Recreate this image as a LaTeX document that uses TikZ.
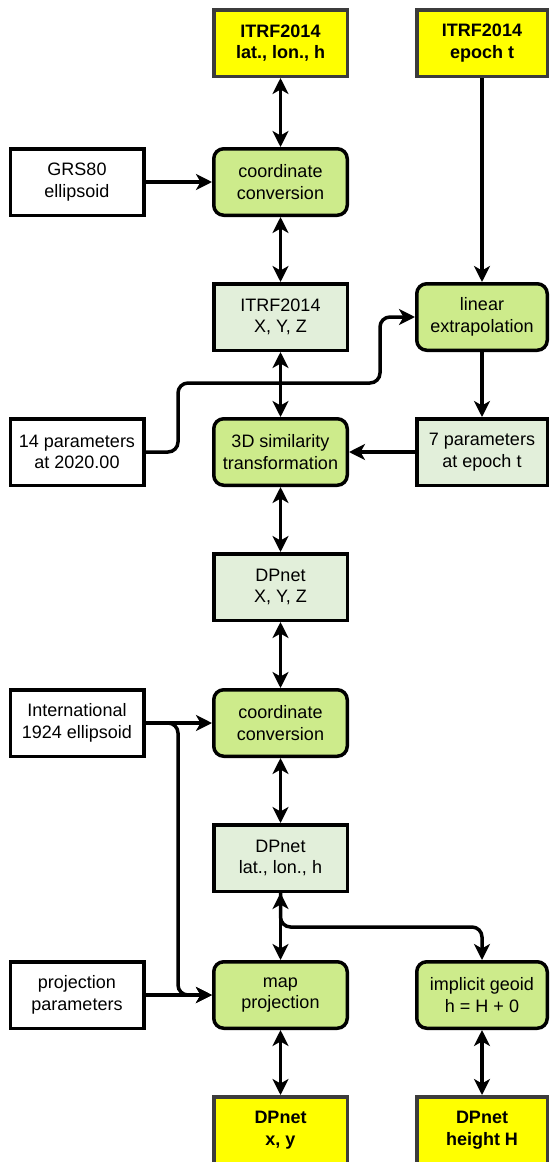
\documentclass[tikz,border=0pt]{standalone}
\usepackage{fontspec}
\setmainfont{Liberation Sans}
\usetikzlibrary{arrows.meta}
\definecolor{yellowc}{HTML}{FFFF00}
\definecolor{bordergrey}{HTML}{3C3C3C}
\definecolor{procgreen}{HTML}{CDEB8B}
\definecolor{datagreen}{HTML}{E2EFDA}
\begin{document}
\begin{tikzpicture}[x=1pt,y=-1pt,
  box/.style={draw, line width=3.5pt, minimum width=133.5pt, minimum height=66.5pt, align=center, inner sep=0pt, font=\fontsize{18}{21.5}\selectfont},
  rbox/.style={minimum width=130.5pt},
  inp/.style={box, fill=white},
  term/.style={box, fill=yellowc, draw=bordergrey, font=\fontsize{18}{21.5}\selectfont\bfseries},
  proc/.style={box, fill=procgreen, rounded corners=10pt},
  datab/.style={box, fill=datagreen},
  conn/.style={line width=3.5pt, rounded corners=10pt, -{Stealth[length=16pt,width=16pt,inset=4.5pt]}},
  bi/.style={line width=3.5pt, {Stealth[length=16pt,width=16pt,inset=4.5pt]}-{Stealth[length=16pt,width=16pt,inset=4.5pt]}}
  ]
\useasboundingbox (0,0) rectangle (550,1162);
% nodes
\node[term] (t1) at (280.5,43) {ITRF2014\\lat., lon., h};
\node[term,rbox] (t2) at (482,43) {ITRF2014\\epoch t};
\node[inp] (grs) at (77,182) {GRS80\\ellipsoid};
\node[proc] (cc1) at (280.5,182) {coordinate\\conversion};
\node[datab] (itrf) at (280.5,317) {ITRF2014\\X, Y, Z};
\node[proc,rbox] (lin) at (482,317) {linear\\extrapolation};
\node[inp] (p14) at (77,452) {14 parameters\\at 2020.00};
\node[proc] (sim) at (280.5,452) {3D similarity\\transformation};
\node[datab,rbox] (p7) at (482,452) {7 parameters\\at epoch t};
\node[datab] (dxyz) at (280.5,587) {DPnet\\X, Y, Z};
\node[inp] (intl) at (77,723) {International\\1924 ellipsoid};
\node[proc] (cc2) at (280.5,723) {coordinate\\conversion};
\node[datab] (dll) at (280.5,858) {DPnet\\lat., lon., h};
\node[inp] (pp) at (77,995) {projection\\parameters};
\node[proc] (map) at (280.5,995) {map\\projection};
\node[proc,rbox] (geo) at (482,995) {implicit geoid\\h = H + 0};
\node[term] (bxy) at (280.5,1130) {DPnet\\x, y};
\node[term,rbox] (bh) at (482,1130) {DPnet\\height H};
% helper coordinates
\coordinate (jL) at (178,0);
\coordinate (c1) at (380,383);
\coordinate (c2) at (0,927);
% connectors
\draw[bi] (t1) -- (cc1);
\draw[conn] (grs) -- (cc1);
\draw[bi] (cc1) -- (itrf);
\draw[conn] (t2) -- (lin);
\draw[bi] (itrf) -- (sim);
\draw[conn] (p14.east) -| (jL |- c1) -- (c1) |- (lin.west);
\draw[conn] (lin) -- (p7);
\draw[conn] (p7) -- (sim);
\draw[bi] (sim) -- (dxyz);
\draw[bi] (dxyz) -- (cc2);
\draw[conn] (intl) -- (cc2);
\draw[conn] (intl.east) -- (intl.east -| jL) |- (map.west);
\draw[conn] (pp) -- (map);
\draw[bi] (cc2) -- (dll);
\draw[bi] (dll) -- (map);
\draw[conn] (dll.south) |- (geo.north |- c2) -- (geo.north);
\draw[bi] (map) -- (bxy);
\draw[bi] (geo) -- (bh);
\end{tikzpicture}
\end{document}
